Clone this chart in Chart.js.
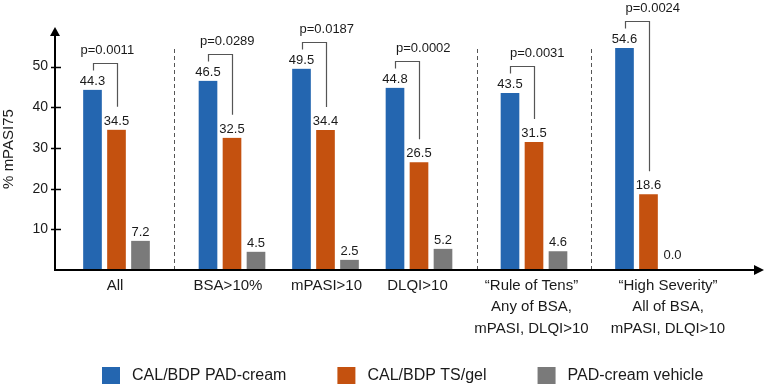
<!DOCTYPE html>
<html><head><meta charset="utf-8">
<script src="https://cdn.jsdelivr.net/npm/chart.js@4"></script>
<style>html,body{margin:0;padding:0;background:#fff;}</style>
</head><body>
<canvas id="c" width="767" height="387" style="display:block;width:767px;height:387px"></canvas>
<script>
// ---- data ----
const categories = ['All', 'BSA>10%', 'mPASI>10', 'DLQI>10',
  ['\u201CRule of Tens\u201D', 'Any of BSA,', 'mPASI, DLQI>10'],
  ['\u201CHigh Severity\u201D', 'All of BSA,', 'mPASI, DLQI>10']];
const seriesNames = ['CAL/BDP PAD-cream', 'CAL/BDP TS/gel', 'PAD-cream vehicle'];
const padCream = [44.3, 46.5, 49.5, 44.8, 43.5, 54.6];
const tsGel = [34.5, 32.5, 34.4, 26.5, 31.5, 18.6];
const vehicle = [7.2, 4.5, 2.5, 5.2, 4.6, 0.0];
const pValues = ['p=0.0011', 'p=0.0289', 'p=0.0187', 'p=0.0002', 'p=0.0031', 'p=0.0024'];
const yTicks = [10, 20, 30, 40, 50];
const yAxisTitle = '% mPASI75';

// ---- layout (positions on the linear x scale, not data) ----
const groupX = [116.5, 232, 325.5, 419, 534, 648.5];
const labelX = [115, 228, 326.5, 417.5, 531.5, 668];
const separatorsAfter = [0, 3, 4];
const pLabelDx = [-12, -8, -2, 1, 0, 1];
const colors = ['#2466b0', '#c4510f', '#7a7a7a'];
const FONT = '"Liberation Sans", Arial, Helvetica, sans-serif';
const TXT = '#1a1a1a';

const seriesValues = [padCream, tsGel, vehicle];
const datasets = seriesValues.map((vals, s) => ({
  label: seriesNames[s],
  data: vals.map((v, i) => ({ x: groupX[i], y: v })),
  backgroundColor: colors[s],
  borderColor: '#ffffff',
  borderWidth: { left: 3, right: 3, top: 0, bottom: 0 },
  borderSkipped: false,
  barThickness: 24,
  grouped: true
}));

const decor = {
  id: 'decor',
  beforeDatasetsDraw(chart) {
    const ctx = chart.ctx, ca = chart.chartArea;
    const xs = chart.scales.x;
    ctx.save();
    ctx.strokeStyle = '#555';
    ctx.lineWidth = 1;
    ctx.setLineDash([4, 3]);
    separatorsAfter.forEach(i => {
      const x = Math.round(xs.getPixelForValue((groupX[i] + groupX[i + 1]) / 2)) + 0.5;
      ctx.beginPath();
      ctx.moveTo(x, 49);
      ctx.lineTo(x, ca.bottom);
      ctx.stroke();
    });
    ctx.restore();
  },
  afterDatasetsDraw(chart) {
    const ctx = chart.ctx, ca = chart.chartArea;
    const ys = chart.scales.y;
    ctx.save();
    // value labels
    ctx.font = '13px ' + FONT;
    ctx.fillStyle = TXT;
    ctx.textAlign = 'center';
    ctx.textBaseline = 'alphabetic';
    seriesValues.forEach((vals, s) => {
      const meta = chart.getDatasetMeta(s);
      meta.data.forEach((el, i) => {
        const off = vals[i] === 0 ? 11 : 5;
        ctx.fillText(vals[i].toFixed(1), el.x, el.y - off);
      });
    });
    // brackets + p values
    const m0 = chart.getDatasetMeta(0), m1 = chart.getDatasetMeta(1);
    ctx.strokeStyle = '#555';
    ctx.lineWidth = 1.2;
    pValues.forEach((p, i) => {
      const a = m0.data[i], b = m1.data[i];
      const top = Math.round(a.y - 27) + 0.5;
      const xa = Math.round(a.x) + 0.5, xb = Math.round(b.x) + 0.5;
      ctx.beginPath();
      ctx.moveTo(xa, top + 7);
      ctx.lineTo(xa, top);
      ctx.lineTo(xb, top);
      ctx.lineTo(xb, b.y - 23);
      ctx.stroke();
      ctx.textAlign = 'left';
      ctx.fillText(p, a.x + pLabelDx[i], top - 10);
    });
    // axes with arrows
    ctx.strokeStyle = '#000';
    ctx.fillStyle = '#000';
    ctx.lineWidth = 2;
    const x0 = ca.left, y0 = ca.bottom;
    ctx.beginPath();
    ctx.moveTo(x0, y0 + 1);
    ctx.lineTo(x0, 34);
    ctx.moveTo(x0 - 1, y0);
    ctx.lineTo(756, y0);
    ctx.stroke();
    ctx.beginPath();
    ctx.moveTo(x0, 27); ctx.lineTo(x0 - 5, 36); ctx.lineTo(x0 + 5, 36); ctx.closePath(); ctx.fill();
    ctx.beginPath();
    ctx.moveTo(764, y0); ctx.lineTo(754, y0 - 5); ctx.lineTo(754, y0 + 5); ctx.closePath(); ctx.fill();
    // y tick marks
    ctx.lineWidth = 1.5;
    yTicks.forEach(v => {
      const y = Math.round(ys.getPixelForValue(v)) + 0.5;
      ctx.beginPath();
      ctx.moveTo(x0 - 4, y);
      ctx.lineTo(x0 + 6, y);
      ctx.stroke();
    });
    // legend
    ctx.font = '16px ' + FONT;
    ctx.textAlign = 'left';
    ctx.textBaseline = 'middle';
    let lx = 102;
    const ly = 375.5;
    seriesNames.forEach((n, s) => {
      ctx.fillStyle = colors[s];
      ctx.fillRect(lx, ly - 8.5, 18, 17);
      ctx.fillStyle = TXT;
      ctx.fillText(n, lx + 30, ly);
      lx += 30 + ctx.measureText(n).width + 51;
    });
    ctx.restore();
  }
};

new Chart(document.getElementById('c'), {
  type: 'bar',
  data: { datasets },
  options: {
    responsive: false,
    animation: false,
    devicePixelRatio: 1,
    layout: { padding: { top: 28, right: 7, bottom: 0, left: 0 } },
    plugins: { legend: { display: false }, tooltip: { enabled: false } },
    scales: {
      x: {
        type: 'linear',
        offset: false,
        bounds: 'data',
        min: 55, max: 760,
        afterBuildTicks: sc => { sc.ticks = labelX.map(v => ({ value: v })); },
        afterFit: sc => { sc.height = 117; },
        grid: { display: false, drawTicks: false, offset: false },
        border: { display: false },
        ticks: {
          autoSkip: false,
          maxRotation: 0,
          padding: 5,
          color: TXT,
          font: { family: FONT, size: 15, lineHeight: 1.43 },
          callback: (v, i) => categories[i]
        }
      },
      y: {
        min: 0, max: 59.5,
        afterBuildTicks: sc => { sc.ticks = yTicks.map(v => ({ value: v })); },
        afterFit: sc => { sc.width = 55; },
        grid: { display: false, drawTicks: false },
        border: { display: false },
        ticks: { padding: 7, color: TXT, font: { family: FONT, size: 14 } },
        title: { display: true, text: yAxisTitle, color: TXT, padding: 0,
          font: { family: FONT, size: 15 } }
      }
    }
  },
  plugins: [decor]
});
</script>
</body></html>
